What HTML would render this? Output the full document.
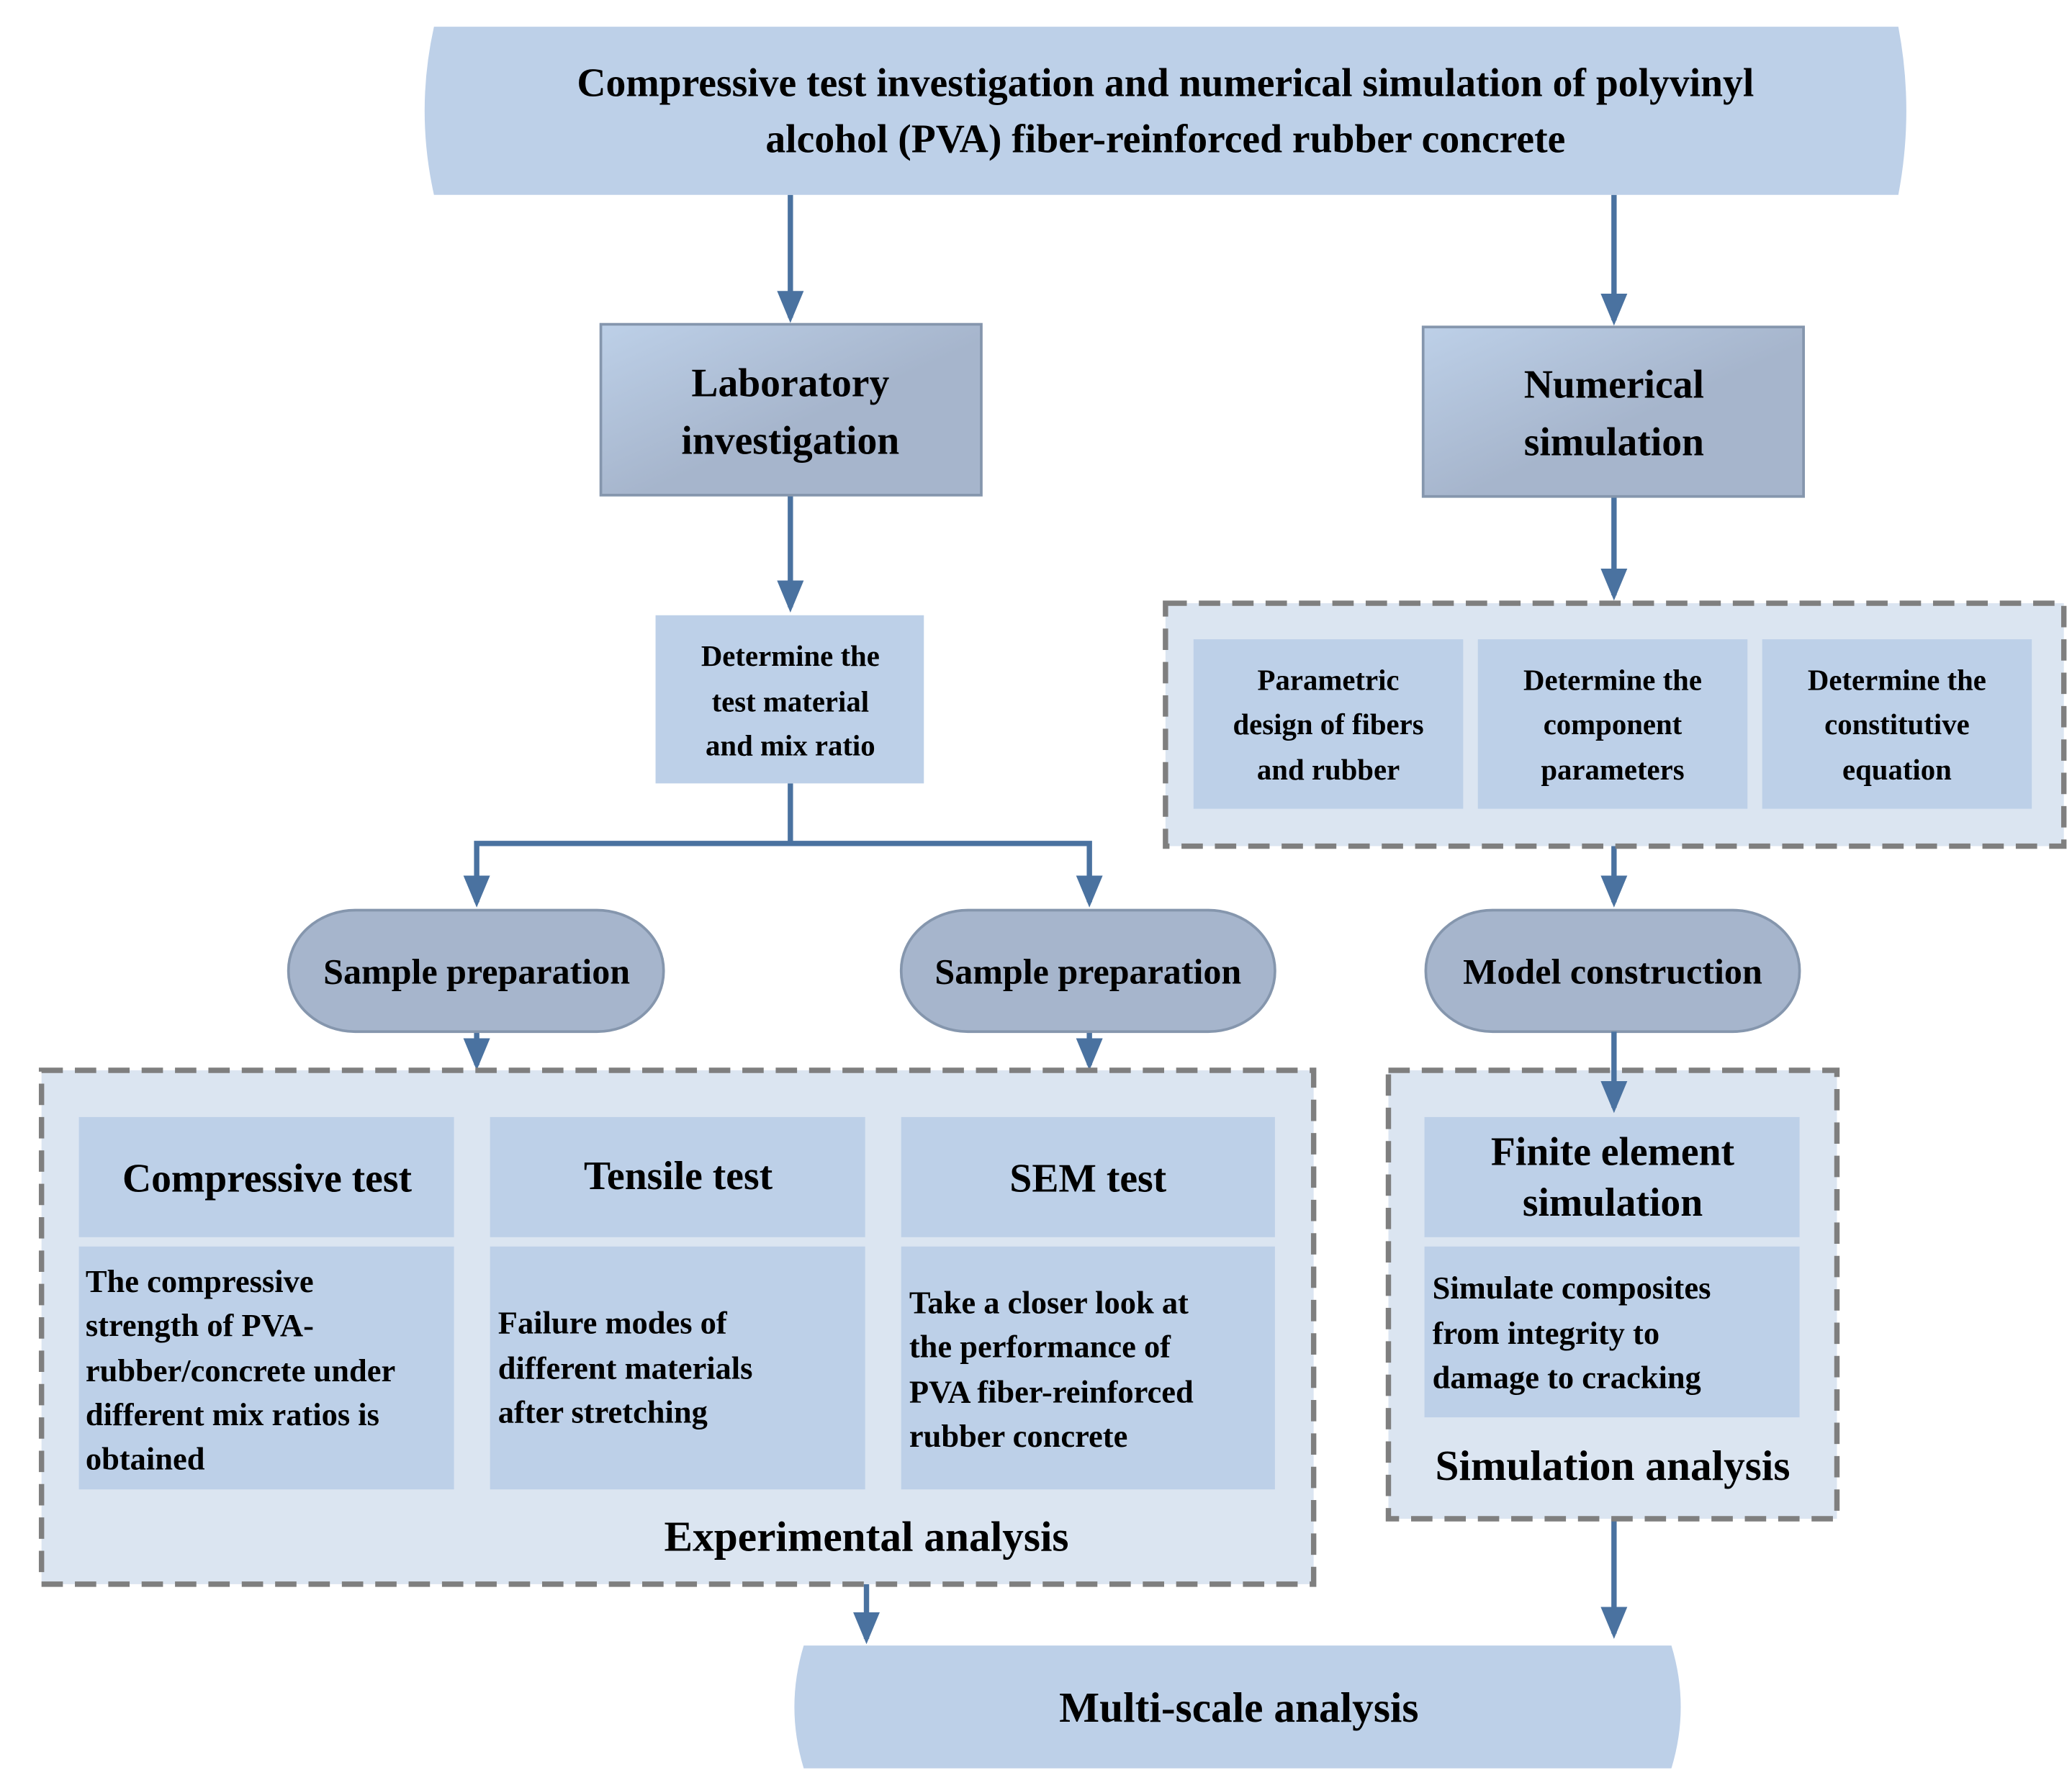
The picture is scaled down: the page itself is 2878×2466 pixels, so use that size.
<!DOCTYPE html>
<html><head><meta charset="utf-8"><style>html,body{margin:0;padding:0;background:#fff}svg{display:block}</style></head>
<body>
<svg width="2878" height="2466" viewBox="0 0 1552 1330" xmlns="http://www.w3.org/2000/svg" font-family="Liberation Serif, serif" font-weight="bold">
<defs>
<linearGradient id="g" x1="0" y1="0" x2="1" y2="1">
<stop offset="0" stop-color="#bdd0e8"/><stop offset="0.55" stop-color="#a6b5cc"/><stop offset="1" stop-color="#a6b5cc"/>
</linearGradient>
<marker id="a" markerWidth="6" markerHeight="5" refX="5" refY="2.5" orient="auto" markerUnits="strokeWidth">
<path d="M0,0 L6,2.5 L0,5 z" fill="#4a72a0"/></marker>
</defs>
<g stroke="#4a72a0" stroke-width="4" fill="none">
<line x1="592" y1="146" x2="592" y2="238" marker-end="url(#a)"/>
<line x1="1209" y1="146" x2="1209" y2="240" marker-end="url(#a)"/>
<line x1="592" y1="371" x2="592" y2="455" marker-end="url(#a)"/>
<line x1="1209" y1="372" x2="1209" y2="446" marker-end="url(#a)"/>
<polyline points="592,587 592,632 357,632 357,676" marker-end="url(#a)"/>
<polyline points="592,632 816,632 816,676" marker-end="url(#a)"/>
<line x1="1209" y1="634" x2="1209" y2="676" marker-end="url(#a)"/>
<line x1="357" y1="773" x2="357" y2="798" marker-end="url(#a)"/>
<line x1="816" y1="773" x2="816" y2="798" marker-end="url(#a)"/>
<line x1="649" y1="1187" x2="649" y2="1228" marker-end="url(#a)"/>
<line x1="1209" y1="1138" x2="1209" y2="1224" marker-end="url(#a)"/>
</g>
<!-- top box -->
<path d="M325,20 H1422 Q1434,83 1422,146 H325 Q311,83 325,20 z" fill="#bdd0e8"/>
<text x="873" y="72" font-size="30" text-anchor="middle">Compressive test investigation and numerical simulation of polyvinyl</text>
<text x="873" y="114" font-size="30" text-anchor="middle">alcohol (PVA) fiber-reinforced rubber concrete</text>
<!-- lab / numerical -->
<rect x="450" y="243" width="285" height="128" fill="url(#g)" stroke="#8596ad" stroke-width="2"/>
<text x="592" y="297" font-size="30" text-anchor="middle">Laboratory</text>
<text x="592" y="340" font-size="30" text-anchor="middle">investigation</text>
<rect x="1066" y="245" width="285" height="127" fill="url(#g)" stroke="#8596ad" stroke-width="2"/>
<text x="1209" y="298" font-size="30" text-anchor="middle">Numerical</text>
<text x="1209" y="341" font-size="30" text-anchor="middle">simulation</text>
<!-- determine -->
<rect x="491" y="461" width="201" height="126" fill="#bdd0e8"/>
<g font-size="22" text-anchor="middle">
<text x="592" y="499">Determine the</text><text x="592" y="533">test material</text><text x="592" y="566">and mix ratio</text>
</g>
<!-- right dashed -->
<rect x="873" y="452" width="673" height="182" fill="#dbe5f1" stroke="#7f7f7f" stroke-width="4" stroke-dasharray="16,9"/>
<rect x="894" y="479" width="202" height="127" fill="#bdd0e8"/>
<rect x="1107" y="479" width="202" height="127" fill="#bdd0e8"/>
<rect x="1320" y="479" width="202" height="127" fill="#bdd0e8"/>
<g font-size="22" text-anchor="middle">
<text x="995" y="517">Parametric</text><text x="995" y="550">design of fibers</text><text x="995" y="584">and rubber</text>
<text x="1208" y="517">Determine the</text><text x="1208" y="550">component</text><text x="1208" y="584">parameters</text>
<text x="1421" y="517">Determine the</text><text x="1421" y="550">constitutive</text><text x="1421" y="584">equation</text>
</g>
<!-- pills -->
<g fill="#a6b5cc" stroke="#8596ad" stroke-width="2">
<rect x="216" y="682" width="281" height="91" rx="50" ry="45"/>
<rect x="675" y="682" width="280" height="91" rx="50" ry="45"/>
<rect x="1068" y="682" width="280" height="91" rx="50" ry="45"/>
</g>
<g font-size="27" text-anchor="middle">
<text x="357" y="737">Sample preparation</text>
<text x="815" y="737">Sample preparation</text>
<text x="1208" y="737">Model construction</text>
</g>
<!-- left dashed -->
<rect x="31" y="802" width="953" height="385" fill="#dbe5f1" stroke="#7f7f7f" stroke-width="4" stroke-dasharray="16,9"/>
<g fill="#bdd0e8">
<rect x="59" y="837" width="281" height="90"/><rect x="367" y="837" width="281" height="90"/><rect x="675" y="837" width="280" height="90"/>
<rect x="59" y="934" width="281" height="182"/><rect x="367" y="934" width="281" height="182"/><rect x="675" y="934" width="280" height="182"/>
</g>
<g font-size="30" text-anchor="middle">
<text x="200" y="893">Compressive test</text>
<text x="508" y="891">Tensile test</text>
<text x="815" y="893">SEM test</text>
</g>
<g font-size="24">
<text x="64" y="968">The compressive</text><text x="64" y="1001">strength of PVA-</text><text x="64" y="1035">rubber/concrete under</text><text x="64" y="1068">different mix ratios is</text><text x="64" y="1101">obtained</text>
<text x="373" y="999">Failure modes of</text><text x="373" y="1033">different materials</text><text x="373" y="1066">after stretching</text>
<text x="681" y="984">Take a closer look at</text><text x="681" y="1017">the performance of</text><text x="681" y="1051">PVA fiber-reinforced</text><text x="681" y="1084">rubber concrete</text>
</g>
<text x="649" y="1162" font-size="32" text-anchor="middle">Experimental analysis</text>
<!-- right lower dashed -->
<rect x="1040" y="802" width="336" height="336" fill="#dbe5f1" stroke="#7f7f7f" stroke-width="4" stroke-dasharray="16,9"/>
<rect x="1067" y="837" width="281" height="90" fill="#bdd0e8"/>
<rect x="1067" y="934" width="281" height="128" fill="#bdd0e8"/>
<text x="1208" y="873" font-size="30" text-anchor="middle">Finite element</text>
<text x="1208" y="911" font-size="30" text-anchor="middle">simulation</text>
<g font-size="24"><text x="1073" y="973">Simulate composites</text><text x="1073" y="1007">from integrity to</text><text x="1073" y="1040">damage to cracking</text></g>
<text x="1208" y="1109" font-size="32" text-anchor="middle">Simulation analysis</text>
<line x1="1209" y1="773" x2="1209" y2="830" stroke="#4a72a0" stroke-width="4" marker-end="url(#a)"/>
<!-- bottom -->
<path d="M602,1233 H1252 Q1266,1279 1252,1325 H602 Q588,1279 602,1233 z" fill="#bdd0e8"/>
<text x="928" y="1290" font-size="32" text-anchor="middle">Multi-scale analysis</text>
</svg>
</body></html>
